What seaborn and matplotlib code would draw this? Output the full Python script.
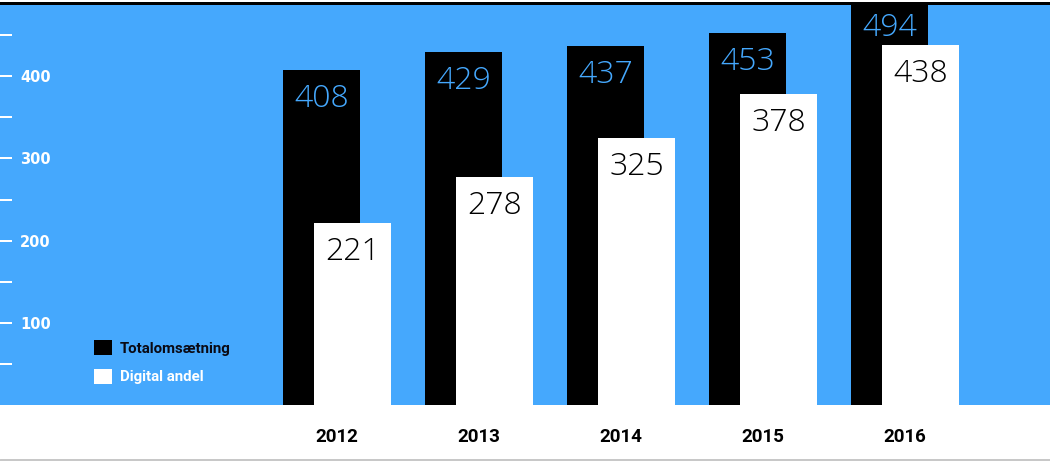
import numpy as np
import pandas as pd
import matplotlib
matplotlib.use("Agg")
import matplotlib.pyplot as plt
import seaborn as sns
from matplotlib.lines import Line2D

# ---- data ----
years = ["2012", "2013", "2014", "2015", "2016"]
total = [408, 429, 437, 453, 494]
digital = [221, 278, 325, 378, 438]
series_names = ["Totalomsætning", "Digital andel"]
major_ticks = [100, 200, 300, 400]
minor_ticks = [50, 150, 250, 350, 450]

BLUE = "#45a8fd"
NARROW = ["Roboto", "DejaVu Sans"]

sns.set_theme(style="white")
fig = plt.figure(figsize=(10.5, 4.61), dpi=100, facecolor="white")
ax = fig.add_axes([0, 55.7 / 461, 1, 402.3 / 461])
ax.set_facecolor(BLUE)

pos = np.arange(len(years))
off = 0.109
bw = 0.542

sns.barplot(x=pos - off, y=total, native_scale=True, width=bw, color="black",
            saturation=1, linewidth=0, label=series_names[0], ax=ax)
sns.barplot(x=pos + off, y=digital, native_scale=True, width=bw, color="white",
            saturation=1, linewidth=0, label=series_names[1], ax=ax)

ax.set_xlim(-2.373, 5.021)
ax.set_ylim(0, 489)

# value labels
lab_font = dict(family=["Open Sans", "DejaVu Sans"], weight="light", fontsize=23)
for cont, vals, col in [(ax.containers[0], total, BLUE), (ax.containers[1], digital, "black")]:
    for p, v in zip(cont.patches, vals):
        ax.annotate(str(v), xy=(p.get_x() + p.get_width() / 2, v),
                    xytext=(0, -37 * 72 / 100), textcoords="offset points",
                    ha="center", va="baseline", color=col,
                    annotation_clip=False, clip_on=False, **lab_font)

# x ticks
ax.set_xticks(pos, years)
ax.tick_params(axis="x", length=0, pad=16.5, labelsize=13.5, labelcolor="black")
for t in ax.get_xticklabels():
    t.set_family(NARROW)
    t.set_weight("bold")

# y ticks
ax.set_yticks(major_ticks)
ax.set_yticks(minor_ticks, minor=True)
ax.tick_params(axis="y", which="both", direction="in", length=12 * 0.72, width=2 * 0.72,
               color="white", left=True)
ax.tick_params(axis="y", which="major", pad=-20 * 0.72, labelsize=10.5,
               labelcolor="white")
for t in ax.get_yticklabels():
    t.set_ha("left")
    t.set_weight("bold")
    t.set_family("DejaVu Sans")

for s in ["left", "right", "bottom"]:
    ax.spines[s].set_visible(False)
ax.spines["top"].set_visible(True)
ax.spines["top"].set_color("black")
ax.spines["top"].set_linewidth(3 * 0.72)
ax.grid(False)
ax.set_xlabel("")
ax.set_ylabel("")

# legend
leg = ax.legend(loc="upper left", bbox_to_anchor=(94 / 1050, (405.3 - 340) / 402.3),
                frameon=False, borderpad=0, borderaxespad=0,
                handlelength=1.2, handleheight=1.2, labelspacing=0.85,
                handletextpad=0.5,
                prop=dict(family=NARROW, weight="bold", size=10.8))
for txt, col in zip(leg.get_texts(), ["#0a0a14", "white"]):
    txt.set_color(col)

# bottom grey rule
fig.add_artist(Line2D([0, 1], [1.5 / 461, 1.5 / 461], color="#c8c8c8",
                      linewidth=3 * 0.72, transform=fig.transFigure))

fig.savefig("out.png", dpi=100, facecolor="white")
